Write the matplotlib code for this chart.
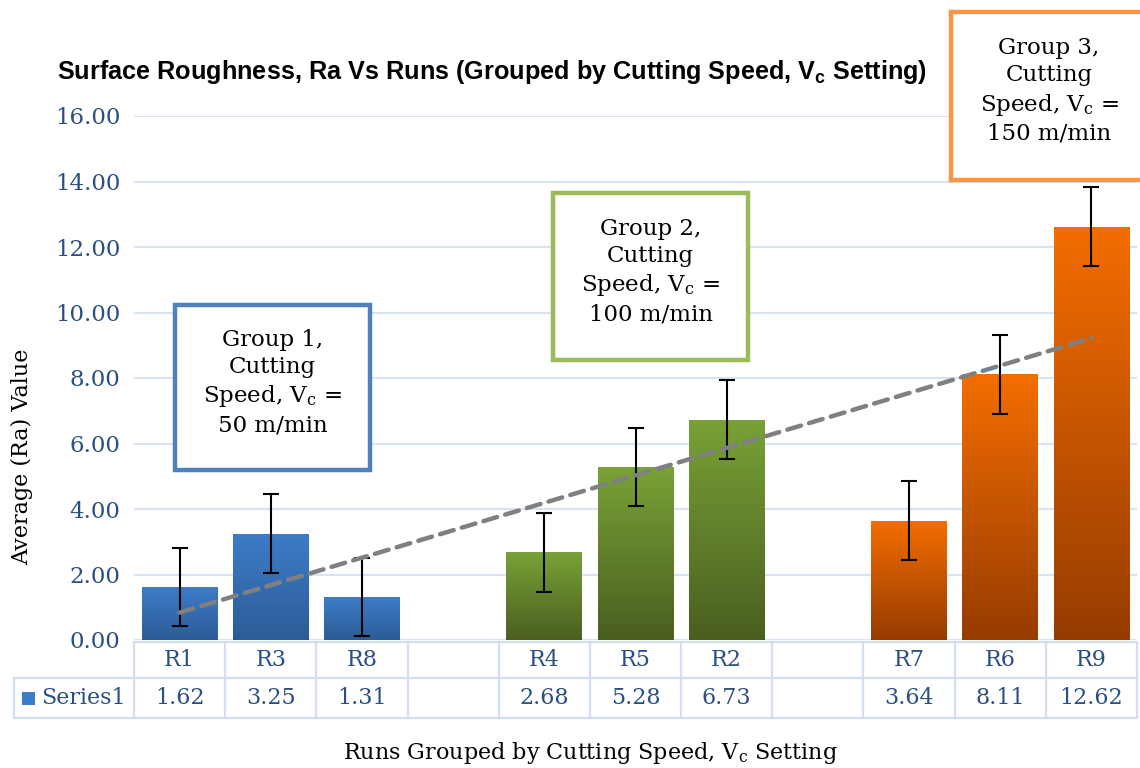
import numpy as np
import matplotlib
matplotlib.use('Agg')
import matplotlib.pyplot as plt
from matplotlib import transforms
from matplotlib.colors import LinearSegmentedColormap
from matplotlib.lines import Line2D
from matplotlib.patches import Rectangle

# ── Data ──────────────────────────────────────────────────────────────────────
RUNS = ['R1', 'R3', 'R8', '', 'R4', 'R5', 'R2', '', 'R7', 'R6', 'R9']
RA = [1.62, 3.25, 1.31, None, 2.68, 5.28, 6.73, None, 3.64, 8.11, 12.62]
ERR = [1.2, 1.2, 1.2, None, 1.2, 1.2, 1.2, None, 1.2, 1.2, 1.2]
GROUP = [1, 1, 1, 0, 2, 2, 2, 0, 3, 3, 3]
SERIES = 'Series1'

GROUP_TEXT = {
    1: 'Group 1,\nCutting\nSpeed, V$\\mathregular{_c}$ =\n50 m/min',
    2: 'Group 2,\nCutting\nSpeed, V$\\mathregular{_c}$ =\n100 m/min',
    3: 'Group 3,\nCutting\nSpeed, V$\\mathregular{_c}$ =\n150 m/min',
}

# ── Style ─────────────────────────────────────────────────────────────────────
W, H = 1140, 768
SERIF = 'DejaVu Serif'
TXT_BLUE = '#2b4f81'
GRID = '#d9e3f1'
TABLE = '#d3dff0'
TREND = '#808080'
GRAD = {  # (bottom, top)
    1: ('#2c5c96', '#3d7cc9'),
    2: ('#4a5e1f', '#79a237'),
    3: ('#963c00', '#f46d00'),
}
EDGE = {1: '#4f81bd', 2: '#9bbb59', 3: '#f79646'}

def px(x, y):
    return x / W, 1 - y / H

fig = plt.figure(figsize=(W / 100, H / 100), dpi=100)
fig.patch.set_facecolor('white')

x0, y0 = px(134, 640)
x1, y1 = px(1137, 116)
ax = fig.add_axes([x0, y0, x1 - x0, y1 - y0])

n = len(RUNS)
xs = np.arange(n)
bw = 0.83

# ── Gradient bars ─────────────────────────────────────────────────────────────
grad = np.linspace(0, 1, 256).reshape(-1, 1)
for x, v, g in zip(xs, RA, GROUP):
    if v is None:
        continue
    cmap = LinearSegmentedColormap.from_list(f'g{g}', GRAD[g])
    rect = Rectangle((x - bw / 2, 0), bw, v, facecolor='none', edgecolor='none')
    ax.add_patch(rect)
    im = ax.imshow(grad, cmap=cmap, origin='lower', aspect='auto',
                   extent=[x - bw / 2, x + bw / 2, 0, v], zorder=2)
    im.set_clip_path(rect)

# ── Error bars ────────────────────────────────────────────────────────────────
ex = [x for x, v in zip(xs, RA) if v is not None]
ey = [v for v in RA if v is not None]
ee = [e for e in ERR if e is not None]
ax.errorbar(ex, ey, yerr=ee, fmt='none', ecolor='black', elinewidth=1.5,
            capsize=6, capthick=1.5, zorder=4)

# ── Linear trendline ──────────────────────────────────────────────────────────
tx = np.array([x + 1 for x in ex], dtype=float)
k, b = np.polyfit(tx, ey, 1)
tline = np.array([tx.min(), tx.max()])
ax.plot(tline - 1, k * tline + b, color=TREND, lw=3.2, ls=(0, (3.2, 1.9)),
        dash_capstyle='round', zorder=5)

# ── Axes ──────────────────────────────────────────────────────────────────────
ax.set_xlim(-0.5, n - 0.5)
ax.set_ylim(0, 16)
ax.set_yticks(np.arange(0, 17, 2))
ax.set_yticklabels([f'{t:.2f}' for t in np.arange(0, 17, 2)],
                   fontsize=16.5, family=SERIF, color=TXT_BLUE)
ax.tick_params(axis='y', length=0, pad=10)
ax.set_xticks([])
for s in ax.spines.values():
    s.set_visible(False)
ax.grid(axis='y', color=GRID, lw=1.5, zorder=0)
ax.set_axisbelow(True)

# ── Data table under the plot ─────────────────────────────────────────────────
tr = transforms.blended_transform_factory(ax.transData, fig.transFigure)
y_top, y_mid, y_bot = 1 - 642 / H, 1 - 678 / H, 1 - 718 / H
lx = 14 / W
fig.add_artist(Line2D([-0.5, n - 0.5], [y_top, y_top], transform=tr,
                      color=TABLE, lw=1.6))
for yy in (y_mid, y_bot):
    fig.add_artist(Line2D([lx, x1], [yy, yy], transform=fig.transFigure,
                          color=TABLE, lw=1.6))
for i in range(n + 1):
    fig.add_artist(Line2D([i - 0.5, i - 0.5], [y_top, y_bot], transform=tr,
                          color=TABLE, lw=1.6))
fig.add_artist(Line2D([lx, lx], [y_mid, y_bot], transform=fig.transFigure,
                      color=TABLE, lw=1.6))

for x, r, v in zip(xs, RUNS, RA):
    fig.text(x, (y_top + y_mid) / 2, r, transform=tr, ha='center', va='center',
             fontsize=16, family=SERIF, color=TXT_BLUE)
    if v is not None:
        fig.text(x, (y_mid + y_bot) / 2, f'{v:.2f}', transform=tr,
                 ha='center', va='center', fontsize=16, family=SERIF,
                 color=TXT_BLUE)

kx, ky = px(22, 705)
fig.add_artist(Rectangle((kx, ky), 13 / W, 13 / H, transform=fig.transFigure,
                         facecolor=GRAD[1][1], edgecolor='none'))
fig.text(*px(41, 698), SERIES, ha='left', va='center', fontsize=16,
         family=SERIF, color=TXT_BLUE)

# ── Group annotation boxes ────────────────────────────────────────────────────
BOXES = {1: (175, 305, 370, 470), 2: (553, 193, 748, 360), 3: (951, 12, 1150, 180)}
for g, (bx0, by0, bx1, by1) in BOXES.items():
    fx0, fy1 = px(bx0, by0)
    fx1, fy0 = px(bx1, by1)
    fig.add_artist(Rectangle((fx0, fy0), fx1 - fx0, fy1 - fy0,
                             transform=fig.transFigure, facecolor='white',
                             edgecolor=EDGE[g], lw=3.2, zorder=10))
    cx = (bx0 + min(bx1, 1140 + 7)) / 2
    fig.text(*px(cx, (by0 + by1) / 2 - 5), GROUP_TEXT[g], ha='center',
             va='center', ma='center', fontsize=16.5, family=SERIF,
             linespacing=1.3, color='black', zorder=11)

# ── Titles ────────────────────────────────────────────────────────────────────
fig.text(*px(492, 72),
         'Surface Roughness, Ra Vs Runs (Grouped by Cutting Speed, V$\\mathregular{_c}$ Setting)',
         ha='center', va='center', fontsize=18.2, fontweight='bold',
         family='Liberation Sans', color='black')
fig.text(*px(22, 457), 'Average (Ra) Value', rotation=90, ha='center',
         va='center', fontsize=16, family=SERIF, color='black')
fig.text(*px(590, 753), 'Runs Grouped by Cutting Speed, V$\\mathregular{_c}$ Setting',
         ha='center', va='center', fontsize=16, family=SERIF, color='black')

fig.savefig('out.png', dpi=100, facecolor='white')
